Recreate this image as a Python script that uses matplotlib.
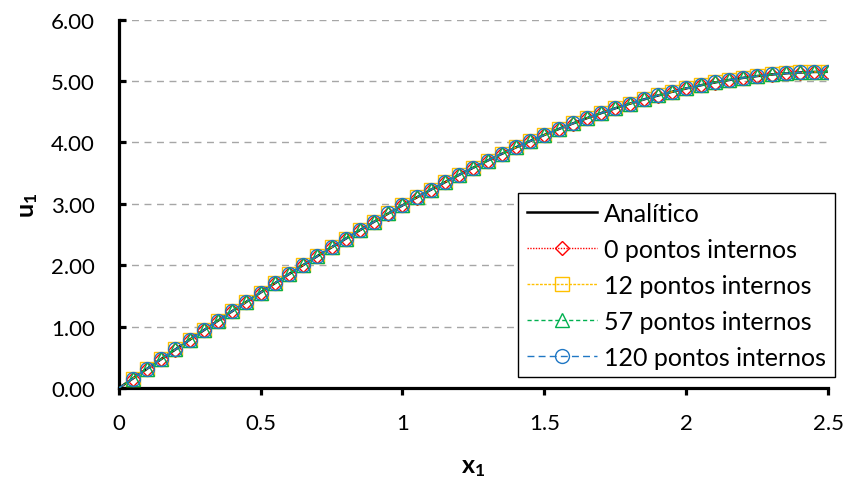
import matplotlib
matplotlib.use('Agg')
import matplotlib.pyplot as plt
from matplotlib.ticker import FormatStrFormatter

plt.rcParams['font.family'] = ['Lato', 'DejaVu Sans']
plt.rcParams['mathtext.fontset'] = 'custom'
plt.rcParams['mathtext.bf'] = 'Lato:bold'
plt.rcParams['mathtext.rm'] = 'Lato'

# dados (passo 0.05)
x1 = [0.00, 0.05, 0.10, 0.15, 0.20, 0.25, 0.30, 0.35, 0.40, 0.45,
      0.50, 0.55, 0.60, 0.65, 0.70, 0.75, 0.80, 0.85, 0.90, 0.95,
      1.00, 1.05, 1.10, 1.15, 1.20, 1.25, 1.30, 1.35, 1.40, 1.45,
      1.50, 1.55, 1.60, 1.65, 1.70, 1.75, 1.80, 1.85, 1.90, 1.95,
      2.00, 2.05, 2.10, 2.15, 2.20, 2.25, 2.30, 2.35, 2.40, 2.45, 2.50]
u_analitico = [0.000, 0.158, 0.316, 0.474, 0.631, 0.788, 0.944, 1.099, 1.253, 1.406,
               1.558, 1.708, 1.857, 2.004, 2.150, 2.293, 2.434, 2.573, 2.710, 2.844,
               2.976, 3.105, 3.231, 3.354, 3.474, 3.591, 3.705, 3.815, 3.921, 4.024,
               4.123, 4.218, 4.309, 4.396, 4.478, 4.557, 4.630, 4.700, 4.764, 4.825,
               4.880, 4.930, 4.976, 5.016, 5.051, 5.081, 5.106, 5.125, 5.139, 5.147, 5.150]
u_0pts = [0.000, 0.158, 0.316, 0.473, 0.630, 0.787, 0.943, 1.098, 1.252, 1.405,
          1.557, 1.707, 1.856, 2.003, 2.149, 2.292, 2.433, 2.572, 2.709, 2.843,
          2.975, 3.104, 3.230, 3.353, 3.473, 3.590, 3.704, 3.814, 3.920, 4.023,
          4.122, 4.217, 4.308, 4.395, 4.477, 4.556, 4.629, 4.699, 4.763, 4.824,
          4.879, 4.929, 4.975, 5.015, 5.050, 5.080, 5.105, 5.124, 5.138, 5.146, 5.149]
u_12pts = u_analitico[:]
u_57pts = u_analitico[:]
u_120pts = u_analitico[:]

series = [
    (u_0pts, '0 pontos internos', '#FF0000', 'D', 6.8, (0, (1, 1))),
    (u_12pts, '12 pontos internos', '#FFC000', 's', 10.5, (0, (2, 1))),
    (u_57pts, '57 pontos internos', '#00B050', '^', 9.5, (0, (3, 2))),
    (u_120pts, '120 pontos internos', '#1F77C4', 'o', 10, (0, (5, 3))),
]

fig = plt.figure(figsize=(8.47, 4.89), dpi=100)
ax = fig.add_axes([0.140, 0.204, 0.838, 0.754])

ax.plot(x1, u_analitico, color='black', lw=1.8, label='Analítico', zorder=3)
for u, lab, c, m, ms, ls in series:
    ax.plot(x1, u, color=c, lw=1.0, ls=ls, marker=m, ms=ms,
            markerfacecolor='none', markeredgecolor=c, markeredgewidth=1.0,
            markevery=range(1, len(x1)), label=lab, zorder=4)

ax.set_xlim(0, 2.5)
ax.set_ylim(0, 6)
ax.set_xticks([0, 0.5, 1, 1.5, 2, 2.5])
ax.set_xticklabels(['0', '0.5', '1', '1.5', '2', '2.5'])
ax.set_yticks([0, 1, 2, 3, 4, 5, 6])
ax.yaxis.set_major_formatter(FormatStrFormatter('%.2f'))

ax.spines['top'].set_visible(False)
ax.spines['right'].set_visible(False)
ax.spines['left'].set_linewidth(2.3)
ax.spines['bottom'].set_linewidth(2.3)
ax.tick_params(axis='y', direction='in', length=5, width=2.3, labelsize=16, pad=17)
ax.tick_params(axis='x', direction='out', length=5, width=2.3, labelsize=16, pad=13)

ax.grid(axis='y', color='#A6A6A6', ls=(0, (5, 4)), lw=1.0)
ax.set_axisbelow(True)

ax.set_xlabel(r'$\mathbf{x_1}$', fontsize=18, labelpad=16)
ax.set_ylabel(r'$\mathbf{u_1}$', fontsize=18, labelpad=8)

leg = ax.legend(loc='upper left', bbox_to_anchor=(0.6116, 0.6033),
                bbox_transform=fig.transFigure, fontsize=18, frameon=True,
                fancybox=False, handlelength=2.8, handletextpad=0.3,
                labelspacing=0.52, borderpad=0.35, borderaxespad=0)
leg.get_frame().set_edgecolor('black')
leg.get_frame().set_linewidth(1.0)
leg.get_frame().set_alpha(1)

fig.savefig('out.png', dpi=100)
